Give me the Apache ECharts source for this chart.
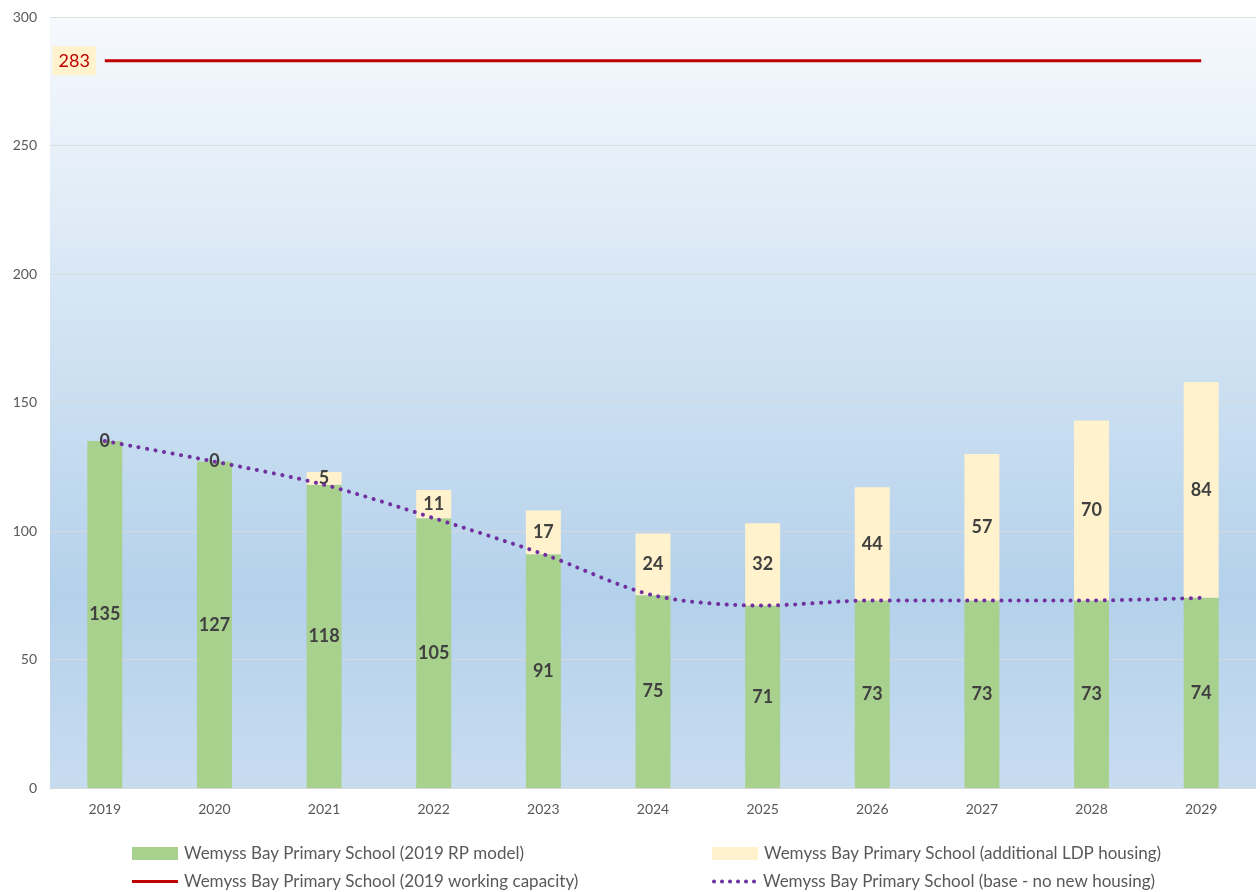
<!DOCTYPE html>
<html>
<head>
<meta charset="utf-8">
<script src="https://cdn.jsdelivr.net/npm/echarts@6/dist/echarts.min.js"></script>
<style>
	html, body { margin: 0; padding: 0; background: #fff; }
	#chart { width: 1260px; height: 892px; }
</style>
</head>
<body>
<div id="chart"></div>
<script>
// 年份
var years = ['2019', '2020', '2021', '2022', '2023', '2024', '2025', '2026', '2027', '2028', '2029'];
// 2019 RP model
var rpModel = [135, 127, 118, 105, 91, 75, 71, 73, 73, 73, 74];
// additional LDP housing
var ldpHousing = [0, 0, 5, 11, 17, 24, 32, 44, 57, 70, 84];
// working capacity
var capacity = [283, 283, 283, 283, 283, 283, 283, 283, 283, 283, 283];
// base - no new housing
var baseLine = [135, 127, 118, 105, 91, 75, 71, 73, 73, 73, 74];

var NAMES = {
	RP: 'Wemyss Bay Primary School (2019 RP model)',
	LDP: 'Wemyss Bay Primary School (additional LDP housing)',
	CAP: 'Wemyss Bay Primary School (2019 working capacity)',
	BASE: 'Wemyss Bay Primary School (base - no new housing)'
};

var FONT = 'Lato, "Open Sans", sans-serif';

// 图例里的点线
var DOTS_ICON = 'path://' + [0, 1, 2, 3, 4, 5].map(function (i) {
	var cx = 2 + i * 8;
	return 'M' + (cx - 2) + ',2 a2,2 0 1,0 4,0 a2,2 0 1,0 -4,0 Z';
}).join(' ');

function makeLegend(name, left, top, icon, w, h) {
	return {
		left: left,
		top: top,
		padding: 0,
		orient: 'horizontal',
		icon: icon,
		itemWidth: w,
		itemHeight: h,
		itemGap: 0,
		textStyle: { color: '#595959', fontSize: 17, fontFamily: FONT, padding: [0, 0, 0, 1] },
		data: [name]
	};
}

function renderChart() {
	var myChart = echarts.init(document.getElementById('chart'));

	myChart.setOption({
		animation: false,
		grid: {
			left: 50,
			right: 4,
			top: 17,
			bottom: 104,
			show: true,
			borderWidth: 0,
			backgroundColor: {
				type: 'linear', x: 0, y: 0, x2: 0, y2: 1,
				colorStops: [
					{ offset: 0, color: '#f6f9fd' },
					{ offset: 0.75, color: '#b4d1eb' },
					{ offset: 1, color: '#c8dcf0' }
				]
			}
		},
		legend: [
			makeLegend(NAMES.RP, 132, 845, 'rect', 46, 13),
			makeLegend(NAMES.LDP, 712, 845, 'rect', 46, 13),
			makeLegend(NAMES.CAP, 132, 873, 'rect', 46, 3),
			makeLegend(NAMES.BASE, 712, 873, DOTS_ICON, 46, 4)
		],
		xAxis: {
			type: 'category',
			data: years,
			axisTick: { show: false },
			axisLine: { lineStyle: { color: '#d9d9d9' } },
			axisLabel: { color: '#595959', fontSize: 14, fontFamily: FONT, margin: 14 }
		},
		yAxis: {
			type: 'value',
			min: 0,
			max: 300,
			interval: 50,
			axisLine: { show: false },
			axisTick: { show: false },
			axisLabel: { color: '#595959', fontSize: 14, fontFamily: FONT, margin: 13 },
			splitLine: { lineStyle: { color: 'rgba(217,217,217,0.85)' } }
		},
		series: [{
			name: NAMES.RP,
			type: 'bar',
			stack: 'total',
			barWidth: 35,
			itemStyle: { color: '#a9d18e' },
			label: {
				show: true,
				position: 'inside',
				color: '#404040',
				fontSize: 18,
				fontWeight: 'bold',
				fontFamily: FONT
			},
			data: rpModel
		}, {
			name: NAMES.LDP,
			type: 'bar',
			stack: 'total',
			barWidth: 35,
			itemStyle: { color: '#fff2cc' },
			label: {
				show: true,
				position: 'inside',
				color: '#404040',
				fontSize: 18,
				fontWeight: 'bold',
				fontFamily: FONT
			},
			data: ldpHousing
		}, {
			name: NAMES.CAP,
			type: 'line',
			symbol: 'none',
			lineStyle: { color: '#c00000', width: 3 },
			itemStyle: { color: '#c00000' },
			markPoint: {
				symbol: 'rect',
				symbolSize: 0,
				label: {
					show: true,
					position: 'left',
					distance: 9,
					formatter: '{c}',
					color: '#c00000',
					fontSize: 18,
					fontFamily: FONT,
					backgroundColor: '#fff2cc',
					padding: [6, 6, 5, 6]
				},
				data: [{ coord: [0, capacity[0]], value: capacity[0] }]
			},
			data: capacity
		}, {
			name: NAMES.BASE,
			type: 'line',
			smooth: 0.3,
			symbol: 'none',
			z: 5,
			lineStyle: { color: '#7030a0', width: 4, type: [0.1, 8.5], cap: 'round' },
			itemStyle: { color: '#7030a0' },
			data: baseLine
		}]
	});
}

renderChart();
</script>
</body>
</html>
